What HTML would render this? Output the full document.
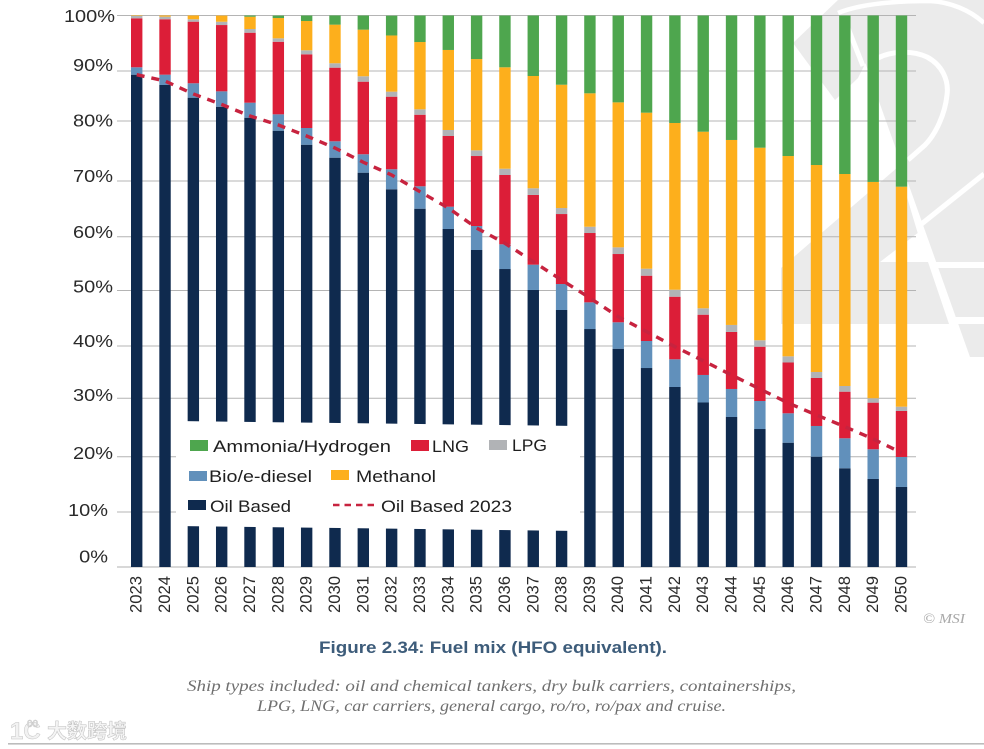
<!DOCTYPE html>
<html lang="en">
<head>
<meta charset="utf-8">
<title>Fuel mix (HFO equivalent)</title>
<style>
html,body{margin:0;padding:0;background:#fff;}
body{width:984px;height:749px;overflow:hidden;}
svg{display:block;font-family:"Liberation Sans","Noto Sans CJK SC",sans-serif;}
</style>
</head>
<body>
<svg id="chart" xmlns="http://www.w3.org/2000/svg" width="984" height="749" viewBox="0 0 984 749">
  <g id="watermark">
    <polygon fill="#ebebeb" points="838,0 793,43 835,100 858,78 866,62 850,20"/>
    <polygon fill="#ebebeb" points="838,0 984,0 984,357 970,357 865,62"/>
    <polygon fill="#ebebeb" points="781,268 898,167 917.7,233 880,262 928,262 949,324 781,324"/>
    <g fill="none" stroke="#ffffff">
      <path stroke-width="4.5" d="M838,13 C860,4 895,1 930,1 C950,2 970,10 984,23"/>
      <path stroke-width="5" d="M878,58 C892,51 912,50 927,57 C942,65 949,80 947,95 C945,115 935,135 925,145 L908,160"/>
      <path stroke-width="5" d="M846,23 L863,66"/>
      <path stroke-width="5" d="M919,226 L984,174"/>
      <path stroke-width="6" d="M936,265 L984,265"/>
      <path stroke-width="7" d="M955,320.5 L984,320.5"/>
    </g>
  </g>
  <g id="grid"></g>
  <g id="bars"></g>
  <polygon fill="#ffffff" points="176,421 580,426 580,531 176,526"/>
  <g id="ylabels"></g>
  <g id="xlabels"></g>
  <g id="legend" font-size="17" fill="#1f1f1f">
    <rect x="190" y="440" width="18" height="11" fill="#4ea64e"/>
    <text x="213" y="452" textLength="178" lengthAdjust="spacingAndGlyphs">Ammonia/Hydrogen</text>
    <rect x="411" y="440" width="18" height="11" fill="#dc1e38"/>
    <text x="432" y="452" textLength="37" lengthAdjust="spacingAndGlyphs">LNG</text>
    <rect x="489" y="440" width="18" height="10" fill="#b1b3b6"/>
    <text x="512" y="451" textLength="35" lengthAdjust="spacingAndGlyphs">LPG</text>
    <rect x="189" y="471" width="18" height="10" fill="#6190bb"/>
    <text x="209" y="482" textLength="103" lengthAdjust="spacingAndGlyphs">Bio/e-diesel</text>
    <rect x="331" y="470" width="18" height="10" fill="#fdaf1c"/>
    <text x="356" y="482" textLength="80" lengthAdjust="spacingAndGlyphs">Methanol</text>
    <rect x="188" y="500" width="18" height="10" fill="#0f2a4e"/>
    <text x="210" y="512" textLength="81" lengthAdjust="spacingAndGlyphs">Oil Based</text>
    <line x1="333" y1="505" x2="375" y2="505" stroke="#c7233f" stroke-width="2.4" stroke-dasharray="6.5 5"/>
    <text x="381" y="512" textLength="131" lengthAdjust="spacingAndGlyphs">Oil Based 2023</text>
  </g>
  <g id="line"></g>
  <text x="923" y="623" font-family="Liberation Serif, serif" font-style="italic" font-size="14" fill="#a8a8a8" textLength="42" lengthAdjust="spacingAndGlyphs">© MSI</text>
  <text x="319" y="653" font-size="16.5" font-weight="700" fill="#3d5c7a" textLength="348" lengthAdjust="spacingAndGlyphs">Figure 2.34: Fuel mix (HFO equivalent).</text>
  <text x="187" y="691" font-family="Liberation Serif, serif" font-style="italic" font-size="15.5" fill="#6f6f6f" textLength="609" lengthAdjust="spacingAndGlyphs">Ship types included: oil and chemical tankers, dry bulk carriers, containerships,</text>
  <text x="257" y="711" font-family="Liberation Serif, serif" font-style="italic" font-size="15.5" fill="#6f6f6f" textLength="469" lengthAdjust="spacingAndGlyphs">LPG, LNG, car carriers, general cargo, ro/ro, ro/pax and cruise.</text>
  <g>
    <text x="10" y="739" font-size="24" font-weight="700" fill="#f2f2f2" stroke="#c4c4c4" stroke-width="0.5">1C</text>
    <text x="27" y="727" font-size="10" fill="#f2f2f2" stroke="#c4c4c4" stroke-width="0.5">00</text>
    <text x="47" y="738" font-size="20" font-weight="700" fill="#f4f4f4" stroke="#bdbdbd" stroke-width="0.5" font-family="Noto Sans CJK SC, sans-serif">大数跨境</text>
  </g>
  <rect x="8" y="743" width="976" height="1.6" fill="#bcbcbc"/>
</svg>
<script>
const years = [2023,2024,2025,2026,2027,2028,2029,2030,2031,2032,2033,2034,2035,2036,2037,2038,2039,2040,2041,2042,2043,2044,2045,2046,2047,2048,2049,2050];
const oilBased = [89.27,87.40,85.10,83.46,81.47,79.11,76.57,74.22,71.50,68.49,64.97,61.29,57.48,54.03,50.23,46.60,43.15,39.58,36.08,32.64,29.83,27.20,25.02,22.54,20.00,17.90,15.96,14.51];
const bioDiesel = [1.34,1.87,2.61,2.79,2.72,2.97,3.03,2.97,3.34,3.63,4.06,4.04,4.35,4.48,4.59,4.71,4.84,4.79,4.90,5.02,4.99,5.08,5.08,5.33,5.57,5.44,5.39,5.44];
const lng = [8.88,10.05,11.17,12.02,12.69,13.16,13.36,13.35,13.16,13.16,12.98,12.82,12.69,12.57,12.64,12.69,12.57,12.38,11.84,11.35,10.93,10.34,9.85,9.21,8.70,8.45,8.45,8.34];
const lpg = [0.42,0.47,0.44,0.60,0.67,0.62,0.73,0.80,0.98,0.91,0.98,1.09,1.03,1.14,1.21,1.09,1.14,1.21,1.27,1.27,1.16,1.27,1.16,1.12,1.09,1.03,0.80,0.78];
const methanol = [0.09,0.22,0.69,1.12,2.23,3.68,5.31,7.00,8.45,10.19,12.20,14.51,16.55,18.39,20.36,22.36,24.19,26.29,28.29,30.23,32.02,33.54,34.92,36.32,37.53,38.44,39.22,39.89];
const ammonia = [0,0,0,0,0.22,0.45,1.00,1.67,2.57,3.59,4.81,6.26,7.89,9.39,10.97,12.55,14.11,15.74,17.62,19.49,21.07,22.58,23.97,25.48,27.11,28.74,30.19,31.04];
const oilBased2023 = [89.27,88.12,85.77,83.86,81.78,80.15,78.15,75.97,73.39,71.08,68.05,65.10,61.47,58.70,55.36,52.04,48.78,45.39,42.67,39.95,37.39,34.81,32.28,29.74,27.56,25.44,23.21,20.72];
const tickLabels = ["100%","90%","80%","70%","60%","50%","40%","30%","20%","10%","0%"];
const gridLevels = [100,89.94,80.87,69.99,59.89,50.14,40.07,30.59,20.0,9.97,0];
const labelLevels = [99.9,91.0,81.0,70.9,60.7,50.9,41.0,31.2,20.7,10.3,1.9];

const NS = "http://www.w3.org/2000/svg";
const xScale = function (i) { return 136.7 + i * 28.326; };
const yScale = function (v) { return 567 - v * 5.515; };
const barWidth = 11.4;

const gridGroup = document.getElementById("grid");
gridLevels.forEach(function (level, i) {
  const ln = document.createElementNS(NS, "line");
  
  
  ln.setAttribute("x1", 117);
  ln.setAttribute("x2", 916);
  ln.setAttribute("y1", yScale(level));
  ln.setAttribute("y2", yScale(level));
  ln.setAttribute("stroke", level === 0 ? "#cccccc" : "#b4b4b4");
  ln.setAttribute("stroke-width", level === 0 ? 1.6 : 1);
  gridGroup.appendChild(ln);
});

const barGroup = document.getElementById("bars");
const stackOrder = [
  { values: oilBased, color: "#0f2a4e" },
  { values: bioDiesel, color: "#6190bb" },
  { values: lng, color: "#dc1e38" },
  { values: lpg, color: "#b1b3b6" },
  { values: methanol, color: "#fdaf1c" },
  { values: ammonia, color: "#4ea64e" }
];
years.forEach(function (year, i) {
  let cumulative = 0;
  stackOrder.forEach(function (series) {
    const v = series.values[i];
    const r = document.createElementNS(NS, "rect");
    
    
    r.setAttribute("x", xScale(i) - barWidth / 2);
    r.setAttribute("width", barWidth);
    r.setAttribute("y", yScale(cumulative + v));
    r.setAttribute("height", Math.max(0, yScale(cumulative) - yScale(cumulative + v)));
    r.setAttribute("fill", series.color);
    barGroup.appendChild(r);
    cumulative += v;
  });
});

const lineGroup = document.getElementById("line");
const linePath = document.createElementNS(NS, "polyline");


linePath.setAttribute("points", oilBased2023.map(function (v, i) { return xScale(i) + "," + yScale(v); }).join(" "));
linePath.setAttribute("fill", "none");
linePath.setAttribute("stroke", "#c7233f");
linePath.setAttribute("stroke-width", 3.4);
linePath.setAttribute("stroke-dasharray", "8 7");
lineGroup.appendChild(linePath);

const yGroup = document.getElementById("ylabels");
tickLabels.forEach(function (label, i) {
  const t = document.createElementNS(NS, "text");
  
  
  t.textContent = label;
  const level = labelLevels[i];
  const rightEdge = level > 95 ? 115 : (level < 15 ? 108 : 113);
  t.setAttribute("x", rightEdge);
  t.setAttribute("y", yScale(level) + 6);
  t.setAttribute("text-anchor", "end");
  t.setAttribute("font-size", 17.5);
  t.setAttribute("fill", "#2a2a2a");
  yGroup.appendChild(t);
  t.setAttribute("textLength", t.getComputedTextLength() * 1.14);
  t.setAttribute("lengthAdjust", "spacingAndGlyphs");
});

const xGroup = document.getElementById("xlabels");
years.forEach(function (year, i) {
  const t = document.createElementNS(NS, "text");
  
  
  t.textContent = String(year);
  const cx = xScale(i) + 5;
  t.setAttribute("transform", "translate(" + cx + ",613) rotate(-90)");
  t.setAttribute("font-size", 16.5);
  t.setAttribute("fill", "#2a2a2a");
  t.setAttribute("textLength", 37);
  t.setAttribute("lengthAdjust", "spacingAndGlyphs");
  xGroup.appendChild(t);
});
</script>
</body>
</html>
